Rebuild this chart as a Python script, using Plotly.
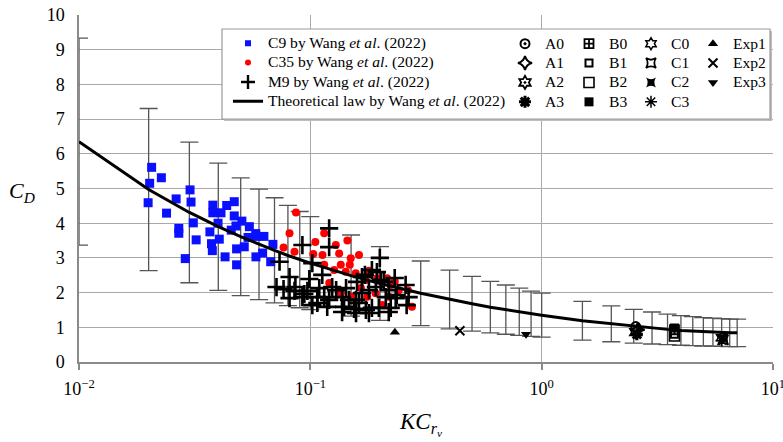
import plotly.graph_objects as go

FONT = "Liberation Serif, Times New Roman, serif"

# Theoretical law and its error-bar band (percent)
LAW_KC = [0.01, 0.02, 0.03, 0.04, 0.05, 0.06, 0.07, 0.08, 0.09, 0.1, 0.15, 0.2, 0.3, 0.4,
          0.5, 0.6, 0.7, 0.8, 0.9, 1.0, 1.5, 2.0, 2.5, 3.0, 3.5, 4.0, 4.5, 5.0, 5.5, 6.0, 6.5, 7.0]
LAW_CD = [6.35, 4.97, 4.31, 3.90, 3.61, 3.39, 3.22, 3.07, 2.95, 2.85, 2.49, 2.26, 1.98, 1.80,
          1.68, 1.58, 1.51, 1.45, 1.39, 1.35, 1.19, 1.10, 1.03, 0.98, 0.94, 0.91, 0.89, 0.87,
          0.86, 0.85, 0.84, 0.84]
ERR_PCT = 47

C9_KC = [0.0206, 0.0227, 0.0202, 0.0199, 0.0239, 0.0263, 0.0302, 0.0305, 0.0312, 0.0270,
         0.0270, 0.0321, 0.0288, 0.0379, 0.0379, 0.0411, 0.0435, 0.0469, 0.0469, 0.0399,
         0.0368, 0.0404, 0.0374, 0.0377, 0.0428, 0.0480, 0.0480, 0.0455, 0.0477, 0.0506,
         0.0545, 0.0518, 0.0538, 0.0581, 0.0583, 0.0630, 0.0582, 0.0689, 0.0674, 0.0622]
C9_CD = [5.61, 5.31, 5.15, 4.59, 4.29, 4.70, 4.96, 4.61, 4.01, 3.85,
         3.71, 3.52, 2.98, 4.52, 4.30, 4.30, 4.51, 4.62, 4.21, 4.00,
         3.75, 3.54, 3.41, 3.21, 3.03, 2.80, 3.26, 3.80, 3.92, 4.06,
         3.90, 3.32, 3.59, 3.70, 3.62, 3.62, 3.03, 3.39, 2.89, 3.14]

C35_KC = [0.0867, 0.0813, 0.0766, 0.0854, 0.1051, 0.1148, 0.1446, 0.1030, 0.1129, 0.1332,
          0.1623, 0.1289, 0.1495, 0.1148, 0.1268, 0.1354, 0.1481, 0.1423, 0.1571, 0.1792,
          0.1734, 0.1944, 0.2147, 0.2220, 0.2410, 0.2642, 0.2749, 0.1914, 0.2183, 0.2043,
          0.1762, 0.1519, 0.1354, 0.2317, 0.1655, 0.1207]
C35_CD = [4.31, 3.71, 3.30, 3.18, 3.46, 3.71, 3.50, 3.11, 3.08, 3.13,
          3.08, 3.37, 2.99, 2.80, 2.65, 2.80, 2.80, 2.60, 2.56, 2.63,
          2.36, 2.41, 2.41, 2.22, 2.07, 2.07, 1.59, 1.98, 1.88, 1.64,
          1.88, 1.88, 1.98, 2.33, 2.13, 2.28]

M9_KC = [0.1206, 0.0924, 0.1206, 0.0736, 0.1020, 0.1997, 0.0813, 0.0990, 0.1126, 0.0714,
         0.0766, 0.0862, 0.0971, 0.1093, 0.1243, 0.1427, 0.1592, 0.1722, 0.1846, 0.1940,
         0.0924, 0.1072, 0.1206, 0.1372, 0.1576, 0.1792, 0.1920, 0.2078, 0.2316, 0.2582,
         0.1020, 0.1183, 0.1399, 0.1623, 0.1846, 0.2119, 0.2339, 0.2660, 0.2608, 0.2226,
         0.1576, 0.1792, 0.2017, 0.2183, 0.1470, 0.1545, 0.1739, 0.1978, 0.2183, 0.1372,
         0.1672, 0.0854, 0.0942, 0.1148, 0.1293, 0.1672, 0.1072, 0.0813, 0.2363]
M9_CD = [3.85, 3.37, 3.31, 2.89, 2.85, 3.00, 2.45, 2.39, 2.51, 2.16,
         2.10, 2.16, 2.05, 2.13, 2.16, 2.13, 2.31, 2.51, 2.65, 2.59,
         1.87, 1.87, 1.79, 1.87, 1.79, 2.07, 2.16, 2.31, 2.42, 2.22,
         1.64, 1.59, 1.59, 1.70, 1.56, 1.87, 1.84, 1.87, 1.64, 1.56,
         1.41, 1.41, 2.36, 2.07, 1.79, 1.53, 1.50, 1.56, 1.44, 1.44,
         2.45, 2.05, 1.96, 1.87, 2.07, 1.99, 1.70, 1.84, 1.93]

A_NAMES = ["A0", "A1", "A2", "A3"]
A_KC = [2.55, 2.60, 2.55, 2.58]
A_CD = [1.02, 0.93, 0.86, 0.80]
B_NAMES = ["B0", "B1", "B2", "B3"]
B_KC = [3.75, 3.75, 3.75, 3.75]
B_CD = [0.93, 0.80, 0.75, 0.98]
C_NAMES = ["C0", "C1", "C2", "C3"]
C_KC = [6.00, 6.10, 6.05, 6.00]
C_CD = [0.70, 0.64, 0.68, 0.62]
EXP_NAMES = ["Exp1", "Exp2", "Exp3"]
EXP_KC = [0.232, 0.443, 0.856]
EXP_CD = [0.86, 0.90, 0.80]

X_TICKS = [0.01, 0.1, 1, 10]
X_TICKTEXT = ["10<sup>−2</sup>", "10<sup>−1</sup>", "10<sup>0</sup>", "10<sup>1</sup>"]
Y_TICKS = [0, 1, 2, 3, 4, 5, 6, 7, 8, 9, 10]

BLACK = "black"
SYMBOLS = {
    "A0": dict(symbol="circle-open-dot", size=9, line=dict(width=2)),
    "A1": dict(symbol="star-diamond-open", size=10, line=dict(width=2)),
    "A2": dict(symbol="hexagram-open-dot", size=10, line=dict(width=1.8)),
    "A3": dict(symbol="asterisk-open", size=10, line=dict(width=3)),
    "B0": dict(symbol="square-cross-open", size=9, line=dict(width=1.8)),
    "B1": dict(symbol="square-open", size=7, line=dict(width=2)),
    "B2": dict(symbol="square-open", size=10, line=dict(width=1.6)),
    "B3": dict(symbol="square", size=9),
    "C0": dict(symbol="hexagram-open", size=9, line=dict(width=1.5)),
    "C1": dict(symbol="star-square-open", size=9, line=dict(width=1.8)),
    "C2": dict(symbol="star-square", size=9),
    "C3": dict(symbol="asterisk-open", size=10, line=dict(width=1.5)),
    "Exp1": dict(symbol="triangle-up", size=9),
    "Exp2": dict(symbol="x-thin-open", size=9, line=dict(width=2)),
    "Exp3": dict(symbol="triangle-down", size=9),
}

LEG_TXT = '<span style="font-size:15.6px">{}</span>'

fig = go.Figure()

# error bars (behind the data)
fig.add_trace(go.Scatter(
    x=LAW_KC, y=LAW_CD, mode="markers", showlegend=False, cliponaxis=False,
    marker=dict(size=1, color="rgba(0,0,0,0)"),
    error_y=dict(type="percent", value=ERR_PCT, color="#555555", thickness=1.3, width=9),
    hoverinfo="skip"))

# data
fig.add_trace(go.Scatter(x=C9_KC, y=C9_CD, mode="markers", showlegend=False,
                         marker=dict(symbol="square", size=9, color="#0a10ff")))
fig.add_trace(go.Scatter(x=C35_KC, y=C35_CD, mode="markers", showlegend=False,
                         marker=dict(symbol="circle", size=8, color="#ff0000")))
fig.add_trace(go.Scatter(x=M9_KC, y=M9_CD, mode="markers", showlegend=False,
                         marker=dict(symbol="cross-thin-open", size=13, color=BLACK,
                                     line=dict(width=2.6, color=BLACK))))

# theoretical law line
fig.add_trace(go.Scatter(x=LAW_KC, y=LAW_CD, mode="lines", showlegend=False,
                         line=dict(color=BLACK, width=3)))

# legend-only entries for first column
legend_entries = [
    ("C9 by Wang <i>et al</i>. (2022)",
     dict(mode="markers", marker=dict(symbol="square", size=6, color="#0a10ff"))),
    ("C35 by Wang <i>et al</i>. (2022)",
     dict(mode="markers", marker=dict(symbol="circle", size=6, color="#ff0000"))),
    ("M9 by Wang <i>et al</i>. (2022)",
     dict(mode="markers", marker=dict(symbol="cross-thin-open", size=10, color=BLACK,
                                      line=dict(width=2.4, color=BLACK)))),
    ("Theoretical law by Wang <i>et al</i>. (2022)",
     dict(mode="lines", line=dict(color=BLACK, width=3))),
]
for name, kw in legend_entries:
    fig.add_trace(go.Scatter(x=[None], y=[None], name=LEG_TXT.format(name),
                             legend="legend", **kw))

groups = [(A_NAMES, A_KC, A_CD, "legend2"), (B_NAMES, B_KC, B_CD, "legend3"),
          (C_NAMES, C_KC, C_CD, "legend4"), (EXP_NAMES, EXP_KC, EXP_CD, "legend5")]
for names, xs, ys, lg in groups:
    for n, xv, yv in zip(names, xs, ys):
        m = dict(SYMBOLS[n])
        m["color"] = BLACK
        if "line" in m:
            m["line"] = dict(m["line"], color=BLACK)
        fig.add_trace(go.Scatter(x=[xv], y=[yv], mode="markers", name=LEG_TXT.format(n),
                                 legend=lg, marker=m, cliponaxis=False))


def px_x(p):
    return (p - 79) / 694.0


def px_y(p):
    return (362 - p) / 347.0


leg_common = dict(xanchor="left", yanchor="top", bgcolor="rgba(0,0,0,0)", borderwidth=0,
                  font=dict(family=FONT, size=12.6, color=BLACK), tracegroupgap=0,
                  itemwidth=30)

fig.update_layout(
    width=783, height=442,
    margin=dict(l=79, r=10, t=15, b=80, autoexpand=False),
    paper_bgcolor="white", plot_bgcolor="white",
    font=dict(family=FONT, color=BLACK),
    legend=dict(x=px_x(228), y=px_y(28.5), **leg_common),
    legend2=dict(x=px_x(505), y=px_y(29), **leg_common),
    legend3=dict(x=px_x(569), y=px_y(29), **leg_common),
    legend4=dict(x=px_x(631), y=px_y(29), **leg_common),
    legend5=dict(x=px_x(693), y=px_y(29), **leg_common),
    xaxis=dict(type="log", range=[-2, 1], tickvals=X_TICKS, ticktext=X_TICKTEXT,
               showgrid=True, gridcolor="#a9a9a9", gridwidth=1.3,
               showline=True, linecolor="#8a8a8a", linewidth=1.5,
               ticks="outside", ticklen=6, tickcolor="#8a8a8a", tickwidth=1.5,
               tickfont=dict(family=FONT, size=18, color=BLACK),
               ticklabelstandoff=4, ticklabeloverflow="allow", zeroline=False),
    yaxis=dict(range=[0, 10], tickvals=Y_TICKS, showgrid=True, gridcolor="#a9a9a9",
               gridwidth=1.3, showline=True, linecolor="#8a8a8a", linewidth=1.5,
               ticks="", tickfont=dict(family=FONT, size=18, color=BLACK),
               ticklabelstandoff=9, zeroline=False),
    shapes=[
        dict(type="rect", xref="paper", yref="paper", layer="above",
             x0=px_x(224), x1=px_x(772), y0=px_y(121), y1=px_y(31),
             fillcolor="#bdbdbd", line=dict(width=0)),
        dict(type="rect", xref="paper", yref="paper", layer="above",
             x0=px_x(222), x1=px_x(770), y0=px_y(119), y1=px_y(29),
             fillcolor="white", line=dict(color="#9a9a9a", width=1.2)),
    ],
    annotations=[
        dict(text="<i>C</i><sub><i>D</i></sub>", xref="paper", yref="paper",
             x=px_x(22), y=px_y(192), xanchor="center", yanchor="middle", showarrow=False,
             font=dict(family=FONT, size=22, color=BLACK)),
        dict(text="<i>KC</i><sub><i>r<sub>v</sub></i></sub>", xref="paper", yref="paper",
             x=px_x(420), y=px_y(424), xanchor="center", yanchor="middle", showarrow=False,
             font=dict(family=FONT, size=23, color=BLACK)),
    ],
)

fig.write_html("out.html")
